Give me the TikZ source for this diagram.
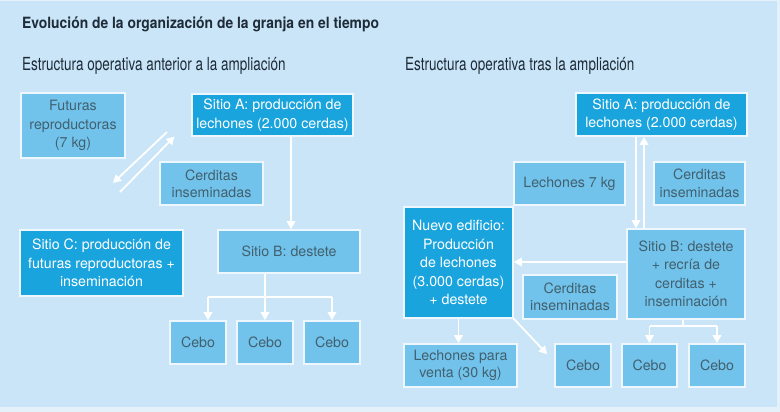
\documentclass[tikz,border=0pt]{standalone}
\usepackage{fontspec}
\usepackage{graphicx}
\setmainfont{TeX Gyre Heros}
\usetikzlibrary{arrows.meta}
\definecolor{pagebg}{HTML}{E4F1FA}
\definecolor{bg}{HTML}{C9E5F7}
\definecolor{mid}{HTML}{72C3EB}
\definecolor{dark}{HTML}{1AA4DE}
\definecolor{bord}{HTML}{EEF7FD}
\definecolor{txt}{HTML}{41606F}
\definecolor{ttl}{HTML}{1E2B38}
\tikzset{
  bx/.style={rectangle, draw=bord, line width=1.6pt, inner sep=0pt, align=center,
    font=\fontsize{14.2}{18.5}\selectfont},
  mbx/.style={bx, fill=mid, text=txt},
  dbx/.style={bx, fill=dark, text=white},
  arr/.style={draw=white, line width=1.8pt, -{Triangle[width=8.5pt,length=8pt]}},
  ln/.style={draw=white, line width=1.8pt},
  ttlfont/.style={font=\fontsize{15.5}{18}\selectfont\bfseries, text=ttl, inner sep=0pt, anchor=base west},
  subfont/.style={font=\fontsize{18}{20}\selectfont, text=ttl, inner sep=0pt, anchor=base west}
}
\begin{document}
\begin{tikzpicture}[x=1pt,y=-1pt]
\useasboundingbox (0,0) rectangle (780,412);
\fill[pagebg] (0,0) rectangle (780,412);
\fill[bg] (0,1.5) rectangle (777,406.5);

\node[ttlfont] (title) at (22,29) {\scalebox{0.895}[1]{Evolución de la organización de la granja en el tiempo}};
\node[subfont] (subL) at (22,70.5) {\scalebox{0.75}[1]{Estructura operativa anterior a la ampliación}};
\node[subfont] (subR) at (405,70.5) {\scalebox{0.75}[1]{Estructura operativa tras la ampliación}};

% left
\node[mbx, minimum width=104pt, minimum height=65pt] (fut) at (73,125.5) {Futuras\\reproductoras\\(7 kg)};
\node[dbx, minimum width=161pt, minimum height=42pt] (sitA) at (272.5,115) {Sitio A: producción de\\lechones (2.000 cerdas)};
\node[mbx, minimum width=103pt, minimum height=43pt, font=\fontsize{14.2}{17}\selectfont] (cerL) at (211.5,183.5) {Cerditas\\inseminadas};
\node[mbx, minimum width=142pt, minimum height=43pt] (sitB) at (289,251.5) {Sitio B: destete};
\node[dbx, minimum width=163pt, minimum height=66pt] (sitC) at (101.5,263) {Sitio C: producción de\\futuras reproductoras +\\inseminación};
\node[mbx, minimum width=56pt, minimum height=43pt] (ceb1) at (198,342.5) {Cebo};
\node[mbx, minimum width=56pt, minimum height=43pt] (ceb2) at (265,342.5) {Cebo};
\node[mbx, minimum width=56pt, minimum height=43pt] (ceb3) at (332,342.5) {Cebo};

\coordinate (d1a) at (167,132);
\coordinate (d1b) at (113,183);
\coordinate (d2a) at (120,192);
\coordinate (d2b) at (174.5,136.5);
\draw[arr] (d1a) -- (d1b);
\draw[arr] (d2a) -- (d2b);

\draw[arr] ([xshift=18.5pt]sitA.south) -- ([xshift=18.5pt]sitA.south |- sitB.north);
\coordinate (tl) at (208,297);
\coordinate (tr) at (332,297);
\draw[arr] (sitB.south -| ceb2) -- (ceb2.north);
\draw[ln] (tl) -- (tr);
\draw[arr] (tl) -- (tl |- ceb1.north);
\draw[arr] (tr) -- (ceb3.north);

% right
\node[dbx, minimum width=171pt, minimum height=43pt] (sitAR) at (661.5,114.5) {Sitio A: producción de\\lechones (2.000 cerdas)};
\node[mbx, minimum width=111pt, minimum height=43pt] (lech7) at (569.5,183.5) {Lechones 7 kg};
\node[mbx, minimum width=91pt, minimum height=43pt, font=\fontsize{14.2}{17.5}\selectfont] (cerR) at (699.5,183.5) {Cerditas\\inseminadas};
\node[dbx, minimum width=109pt, minimum height=111pt] (nuevo) at (458.5,262.5) {Nuevo edificio:\\Producción\\de lechones\\(3.000 cerdas)\\+ destete};
\node[mbx, minimum width=118pt, minimum height=90pt] (sitBR) at (686,274) {Sitio B: destete\\+ recría de\\cerditas +\\inseminación};
\node[mbx, minimum width=94pt, minimum height=44pt, font=\fontsize{14.2}{17.5}\selectfont] (cerR2) at (570,297) {Cerditas\\inseminadas};
\node[mbx, minimum width=113pt, minimum height=43pt, font=\fontsize{14.2}{17.5}\selectfont] (venta) at (460.5,365.5) {Lechones para\\venta (30 kg)};
\node[mbx, minimum width=56pt, minimum height=43pt] (cebR1) at (583,365.5) {Cebo};
\node[mbx, minimum width=55pt, minimum height=43pt] (cebR2) at (649.5,365.5) {Cebo};
\node[mbx, minimum width=56pt, minimum height=43pt] (cebR3) at (717,365.5) {Cebo};

\draw[arr] ([xshift=-25.5pt]sitAR.south) -- ([xshift=-25.5pt]sitAR.south |- sitBR.north);
\draw[arr] ([xshift=-17.5pt]sitAR.south |- sitBR.north) -- ([xshift=-17.5pt]sitAR.south);
\draw[arr] ([yshift=12pt]sitBR.west) -- ([yshift=12pt]sitBR.west -| nuevo.east);
\draw[arr] (nuevo.south) -- (nuevo.south |- venta.north);
\draw[arr] (nuevo.south east) -- ([xshift=-7pt,yshift=-11pt]cebR1.north west);
\coordinate (rl) at (649.5,326);
\coordinate (rr) at (717,326);
\draw[ln] ([xshift=-3pt]sitBR.south) -- ([xshift=-3pt]sitBR.south |- rl);
\draw[ln] (rl) -- (rr);
\draw[arr] (rl) -- (cebR2.north);
\draw[arr] (rr) -- (cebR3.north);
\end{tikzpicture}
\end{document}
